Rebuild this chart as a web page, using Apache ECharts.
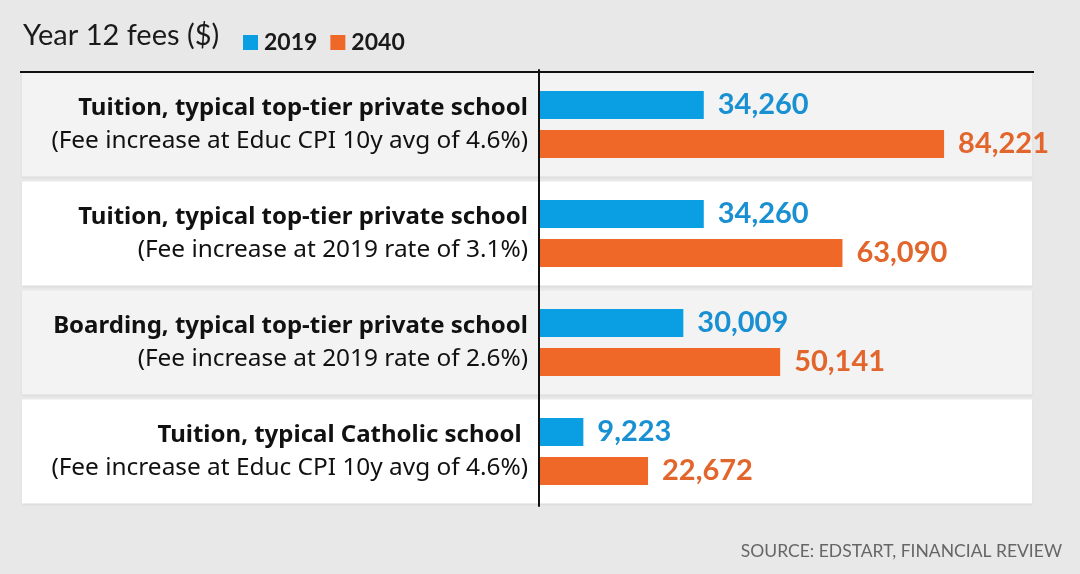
<!DOCTYPE html>
<html><head><meta charset="utf-8">
<script src="https://cdn.jsdelivr.net/npm/echarts@6/dist/echarts.min.js"></script>
<style>html,body{margin:0;padding:0;background:#e8e8e8}#c{width:1080px;height:574px}</style>
</head><body><div id="c"></div>
<script>
const titles = [
  'Tuition, typical top-tier private school',
  'Tuition, typical top-tier private school',
  'Boarding, typical top-tier private school',
  'Tuition, typical Catholic school '
];
const subtitles = [
  '(Fee increase at Educ CPI 10y avg of 4.6%)',
  '(Fee increase at 2019 rate of 3.1%)',
  '(Fee increase at 2019 rate of 2.6%)',
  '(Fee increase at Educ CPI 10y avg of 4.6%)'
];
const fees2019 = [34260, 34260, 30009, 9223];
const fees2040 = [84221, 63090, 50141, 22672];
const panelColors = ['#f3f3f3', '#ffffff', '#f3f3f3', '#ffffff'];

const FONT = 'Lato';
const LFONT = 'Noto Sans';
const fmt = v => v.toLocaleString('en-US');
const chart = echarts.init(document.getElementById('c'));
chart.setOption({
  animation: false,
  backgroundColor: '#e8e8e8',
  textStyle: { fontFamily: FONT },
  title: {
    text: 'Year 12 fees ($)', left: 18, top: 16,
    textStyle: { fontFamily: FONT, fontSize: 29, fontWeight: 'normal', color: '#1a1a1a' }
  },
  legend: {
    left: 238, top: 26, itemWidth: 15, itemHeight: 15, itemGap: 13,
    icon: 'rect',
    data: ['2019', '2040'],
    textStyle: { fontFamily: FONT, fontSize: 23, fontWeight: 'bold', color: '#1a1a1a', padding: [0, 0, 0, 1] }
  },
  graphic: [
    { type: 'line', z: 100, shape: { x1: 20, y1: 72, x2: 1034, y2: 72 }, style: { stroke: '#111', lineWidth: 2 } },
    { type: 'text', right: 18, top: 542, style: { text: 'SOURCE: EDSTART, FINANCIAL REVIEW', fontFamily: FONT, fontSize: 17.5, fill: '#666' } }
  ],
  grid: { left: 539, right: 48, top: 70, bottom: 68, containLabel: false },
  xAxis: { type: 'value', min: 0, max: 102500, show: false },
  yAxis: {
    type: 'category', inverse: true, z: 10,
    data: titles.map((t, i) => t + '\n' + subtitles[i]),
    axisLine: { show: true, lineStyle: { color: '#111', width: 2 } },
    axisTick: { show: false },
    axisLabel: {
      margin: 11, align: 'right',
      formatter: (v) => { const p = v.split('\n'); return '{b|' + p[0] + '}\n{r|' + p[1] + '}'; },
      rich: {
        b: { fontFamily: LFONT, fontSize: 24, fontWeight: 'bold', color: '#111', lineHeight: 33, align: 'right' },
        r: { fontFamily: LFONT, fontSize: 24.4, fontWeight: 'normal', color: '#111', lineHeight: 33, align: 'right' }
      }
    }
  },
  series: [
    {
      type: 'custom', z: 1, silent: true,
      data: panelColors.map((c, i) => [0, i]),
      encode: { x: 0, y: 1 },
      clip: false,
      renderItem: (params, api) => {
        const idx = api.value(1);
        const y = api.coord([0, idx])[1];
        const h = api.size([0, 1])[1];
        return {
          type: 'rect',
          shape: { x: 22, y: y - h / 2 + 2.5, width: 1010, height: h - 5 },
          style: { fill: panelColors[idx], shadowColor: 'rgba(0,0,0,0.06)', shadowBlur: 2, shadowOffsetY: 1 }
        };
      }
    },
    {
      name: '2019', type: 'bar', z: 3, data: fees2019,
      barWidth: 28, barGap: '39%', barCategoryGap: '38%',
      itemStyle: { color: '#0a9fe2' },
      label: {
        show: true, position: 'right', distance: 14, formatter: p => fmt(p.value),
        fontFamily: FONT, fontSize: 29, fontWeight: 'bold', color: '#1990d2'
      }
    },
    {
      name: '2040', type: 'bar', z: 3, data: fees2040,
      barWidth: 28, barGap: '39%', barCategoryGap: '38%',
      itemStyle: { color: '#f06828' },
      label: {
        show: true, position: 'right', distance: 14, formatter: p => fmt(p.value),
        fontFamily: FONT, fontSize: 29, fontWeight: 'bold', color: '#e2652c'
      }
    }
  ]
});
</script></body></html>
